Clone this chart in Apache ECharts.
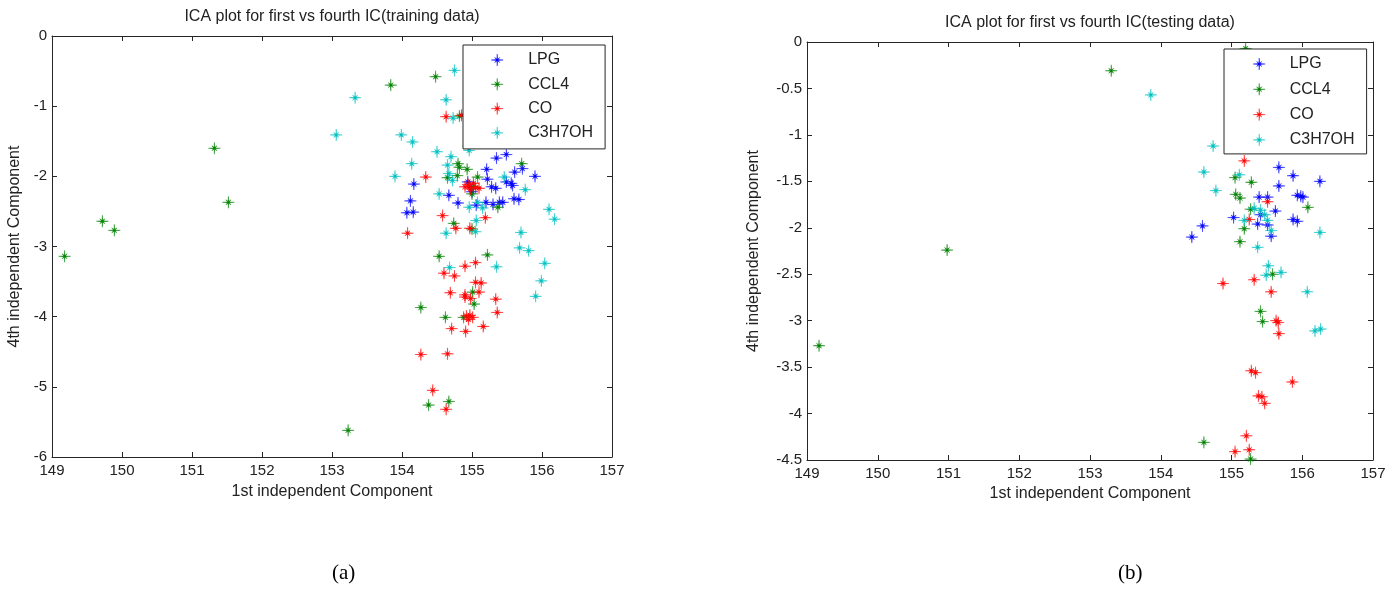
<!DOCTYPE html>
<html>
<head>
<meta charset="utf-8">
<script src="https://cdn.jsdelivr.net/npm/echarts@6/dist/echarts.min.js"></script>
<style>
html,body{margin:0;padding:0;background:#fff;}
#c{width:1400px;height:592px;}
</style>
</head>
<body>
<div id="c"></div>
<script>
// ---------- data ----------
const seriesNames = ['LPG', 'CCL4', 'CO', 'C3H7OH'];
const seriesColors = ['#0000ff', '#008000', '#ff0000', '#00bfbf'];

const trainTitle = 'ICA plot for first vs fourth IC(training data)';
const testTitle = 'ICA plot for first vs fourth IC(testing data)';
const xName = '1st independent Component';
const yName = '4th independent Component';
const captions = ['(a)', '(b)'];

const xRange = [149, 157];
const trainYRange = [-6, 0];
const testYRange = [-4.5, 0];

const trainLPG = [[155.35,-1.74],[155.49,-1.69],[155.90,-2.00],[155.72,-1.89],[155.61,-1.94],[155.56,-2.10],[155.49,-2.08],[155.58,-2.13],[155.21,-1.90],[155.22,-2.04],[155.28,-2.15],[155.34,-2.17],[155.60,-2.32],[155.67,-2.33],[155.44,-2.37],[155.39,-2.37],[155.30,-2.40],[155.20,-2.37],[155.06,-2.41],[154.94,-2.08],[154.97,-2.15],[155.00,-2.22],[154.80,-2.38],[154.67,-2.27],[154.17,-2.11],[154.12,-2.35],[154.07,-2.52],[154.16,-2.51]];
const trainCCL4 = [[149.18,-3.14],[149.72,-2.64],[149.89,-2.77],[151.32,-1.60],[151.52,-2.37],[153.23,-5.62],[153.84,-0.70],[154.48,-0.58],[154.82,-1.14],[154.95,-1.57],[154.80,-1.82],[154.82,-1.87],[154.79,-1.99],[154.65,-2.02],[154.93,-1.90],[155.08,-2.01],[155.00,-2.25],[155.02,-2.15],[155.37,-2.44],[155.71,-1.82],[154.74,-2.67],[155.00,-2.75],[154.53,-3.14],[155.22,-3.12],[154.27,-3.87],[154.62,-4.01],[154.88,-4.01],[155.01,-3.65],[155.03,-3.82],[154.38,-5.26],[154.67,-5.21]];
const trainCO = [[154.63,-1.15],[154.85,-1.13],[154.34,-2.01],[154.95,-2.12],[155.02,-2.10],[155.05,-2.16],[154.98,-2.18],[155.10,-2.17],[154.90,-2.15],[154.58,-2.56],[154.08,-2.81],[154.77,-2.74],[154.97,-2.74],[155.19,-2.59],[154.90,-3.28],[155.05,-3.23],[154.60,-3.38],[154.75,-3.42],[155.05,-3.51],[155.13,-3.52],[154.69,-3.66],[154.90,-3.69],[154.90,-3.72],[154.98,-3.74],[155.10,-3.65],[155.34,-3.75],[155.36,-3.94],[154.92,-3.99],[154.97,-3.98],[155.01,-4.01],[154.95,-4.04],[154.71,-4.17],[154.91,-4.21],[155.16,-4.14],[154.27,-4.54],[154.65,-4.53],[154.44,-5.05],[154.63,-5.32]];
const trainC3H7OH = [[153.33,-0.88],[153.06,-1.41],[153.90,-2.00],[153.99,-1.41],[154.15,-1.51],[154.14,-1.82],[154.63,-0.91],[154.75,-0.49],[154.73,-1.17],[154.50,-1.65],[154.96,-1.63],[154.70,-1.72],[154.65,-1.84],[154.67,-1.96],[154.72,-2.06],[154.53,-2.25],[154.63,-2.81],[154.96,-2.44],[155.08,-2.37],[155.15,-2.45],[155.06,-2.63],[155.05,-2.79],[155.46,-2.01],[155.76,-2.19],[156.10,-2.47],[156.18,-2.61],[155.70,-2.80],[155.68,-3.02],[155.81,-3.06],[156.04,-3.24],[155.99,-3.49],[155.91,-3.71],[155.35,-3.29],[154.68,-3.30]];

const testLPG = [[155.67,-1.35],[155.87,-1.44],[156.25,-1.50],[155.67,-1.55],[155.39,-1.67],[155.51,-1.67],[155.93,-1.65],[155.98,-1.66],[156.01,-1.67],[155.62,-1.82],[155.41,-1.86],[155.03,-1.89],[155.37,-1.96],[155.51,-1.97],[155.56,-2.09],[155.87,-1.91],[155.93,-1.93],[154.59,-1.98],[154.44,-2.10]];
const testCCL4 = [[149.17,-3.27],[150.98,-2.24],[153.30,-0.31],[155.20,-0.07],[154.61,-4.31],[155.27,-4.49],[155.41,-2.90],[155.44,-3.01],[155.58,-2.50],[156.08,-1.78],[155.05,-1.46],[155.28,-1.51],[155.06,-1.64],[155.12,-1.68],[155.27,-1.80],[155.18,-2.01],[155.12,-2.15]];
const testCO = [[155.18,-1.28],[155.51,-1.72],[155.25,-1.91],[154.88,-2.60],[155.32,-2.56],[155.56,-2.69],[155.63,-3.00],[155.66,-3.02],[155.67,-3.14],[155.28,-3.54],[155.34,-3.56],[155.86,-3.66],[155.38,-3.81],[155.43,-3.82],[155.47,-3.89],[155.21,-4.24],[155.05,-4.41],[155.25,-4.39]];
const testC3H7OH = [[153.86,-0.57],[154.74,-1.12],[154.61,-1.40],[155.11,-1.43],[154.78,-1.60],[155.32,-1.79],[155.41,-1.81],[155.47,-1.86],[155.51,-1.92],[155.18,-1.92],[155.56,-2.03],[155.37,-2.21],[156.25,-2.05],[155.52,-2.41],[155.49,-2.51],[155.70,-2.48],[156.07,-2.69],[156.18,-3.11],[156.26,-3.09]];

const trainSets = [trainLPG, trainCCL4, trainCO, trainC3H7OH];
const testSets = [testLPG, testCCL4, testCO, testC3H7OH];

// ---------- styling ----------
const FONT = "'Liberation Sans', Arial, sans-serif";
const STAR = 'path://M10,0 L1.6,0.65 L4.2,4.2 L0.65,1.6 L0,10 L-0.65,1.6 L-4.2,4.2 L-1.6,0.65 L-10,0 L-1.6,-0.65 L-4.2,-4.2 L-0.65,-1.6 L0,-10 L0.65,-1.6 L4.2,-4.2 L1.6,-0.65 Z';
const AXIS_COLOR = '#262626';
const TEXT_COLOR = '#222';

const grids = [
  { left: 52, top: 36, width: 560, height: 421 },
  { left: 807, top: 42, width: 566, height: 418 }
];
const yRanges = [trainYRange, testYRange];
const yIntervals = [1, 0.5];
const yNameGaps = [29, 45];
const xNameGaps = [27, 25];

function xAxes(gi) {
  const base = {
    gridIndex: gi, type: 'value', min: xRange[0], max: xRange[1], interval: 1,
    axisLine: { show: true, onZero: false, lineStyle: { color: AXIS_COLOR, width: 1 } },
    axisTick: { show: true, inside: true, length: 5, lineStyle: { color: AXIS_COLOR } },
    splitLine: { show: false }
  };
  return [
    Object.assign({}, base, {
      position: 'bottom',
      axisLabel: { show: true, margin: 6, fontSize: 15, color: TEXT_COLOR, fontFamily: FONT },
      name: xName, nameLocation: 'middle', nameGap: xNameGaps[gi],
      nameTextStyle: { fontSize: 16, color: TEXT_COLOR, fontFamily: FONT }
    }),
    Object.assign({}, base, { position: 'top', axisLabel: { show: false } })
  ];
}
function yAxes(gi) {
  const base = {
    gridIndex: gi, type: 'value', min: yRanges[gi][0], max: yRanges[gi][1], interval: yIntervals[gi],
    axisLine: { show: true, onZero: false, lineStyle: { color: AXIS_COLOR, width: 1 } },
    axisTick: { show: true, inside: true, length: 5, lineStyle: { color: AXIS_COLOR } },
    splitLine: { show: false }
  };
  return [
    Object.assign({}, base, {
      position: 'left',
      axisLabel: { show: true, margin: 5, fontSize: 15, color: TEXT_COLOR, fontFamily: FONT },
      name: yName, nameLocation: 'middle', nameGap: yNameGaps[gi],
      nameTextStyle: { fontSize: 16, color: TEXT_COLOR, fontFamily: FONT }
    }),
    Object.assign({}, base, { position: 'right', axisLabel: { show: false } })
  ];
}

const xAxis = [].concat(xAxes(0), xAxes(1));
const yAxis = [].concat(yAxes(0), yAxes(1));

const series = [];
[trainSets, testSets].forEach((sets, gi) => {
  sets.forEach((data, si) => {
    series.push({
      name: seriesNames[si],
      type: 'scatter',
      xAxisIndex: gi * 2,
      yAxisIndex: gi * 2,
      data: data,
      symbol: STAR,
      symbolSize: 12,
      itemStyle: { color: seriesColors[si], opacity: 1, borderColor: seriesColors[si], borderWidth: 0.4 },
      emphasis: { disabled: true },
      animation: false
    });
  });
});

function legendCfg(left, top, padding, gap, textPad) {
  return {
    orient: 'vertical', left: left, top: top,
    padding: padding, itemGap: gap, itemWidth: 12, itemHeight: 12,
    backgroundColor: '#fff', borderColor: AXIS_COLOR, borderWidth: 1,
    selectedMode: false,
    itemStyle: { borderWidth: 0.4 },
    data: seriesNames.map(n => ({ name: n, icon: STAR })),
    textStyle: { fontSize: 16, color: TEXT_COLOR, fontFamily: FONT, lineHeight: 14, padding: [0, 0, 0, textPad] }
  };
}

const option = {
  backgroundColor: '#fff',
  animation: false,
  title: [
    { text: trainTitle, left: 332, top: 9, textAlign: 'center', padding: 0,
      textStyle: { fontSize: 16, fontWeight: 'normal', color: TEXT_COLOR, fontFamily: FONT } },
    { text: testTitle, left: 1090, top: 15, textAlign: 'center', padding: 0,
      textStyle: { fontSize: 16, fontWeight: 'normal', color: TEXT_COLOR, fontFamily: FONT } }
  ],
  legend: [
    legendCfg(463, 45, [7, 12, 8, 28], 8.3, 20),
    legendCfg(1224, 49, [7, 12, 6, 29], 9.3, 19.5)
  ],
  grid: grids.map(g => Object.assign({ containLabel: false, show: false }, g)),
  xAxis: xAxis,
  yAxis: yAxis,
  series: series,
  graphic: [
    { type: 'text', left: 332, top: 563, style: { text: captions[0], font: "21px 'Liberation Serif', 'Times New Roman', serif", fill: '#000' } },
    { type: 'text', left: 1118, top: 563, style: { text: captions[1], font: "21px 'Liberation Serif', 'Times New Roman', serif", fill: '#000' } }
  ]
};

const chart = echarts.init(document.getElementById('c'), null, { renderer: 'canvas' });
chart.setOption(option);
</script>
</body>
</html>
